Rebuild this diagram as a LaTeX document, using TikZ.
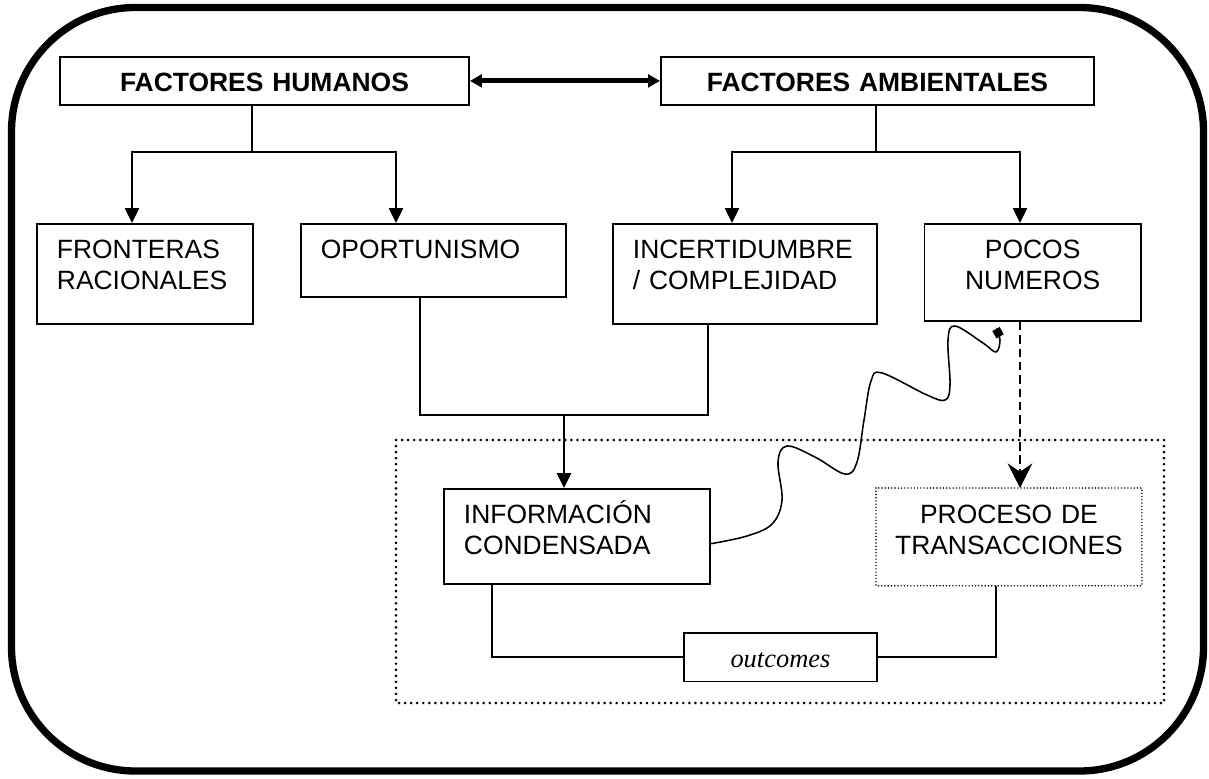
\documentclass[tikz,border=0pt]{standalone}
\usepackage{fontspec}
\setmainfont{Liberation Sans}
\newfontfamily\timesfont{Liberation Serif}
\usetikzlibrary{arrows.meta}

\begin{document}
\begin{tikzpicture}[x=0.025cm,y=-0.025cm,>={Triangle[length=10.5pt,width=10pt]},
                    line width=1.2pt]
  \tikzstyle{box}=[draw,line width=1.3pt,anchor=north west,inner xsep=0.5cm,inner ysep=0pt,
                   text height=24.5pt,font=\fontsize{18.8}{22.4}\selectfont,align=left]
  \tikzstyle{mid}=[box,inner xsep=0.3cm,align=center]
  \tikzstyle{head}=[mid,font=\fontsize{18.8}{22.4}\selectfont\bfseries]
  \tikzstyle{dotbox}=[line width=2.1pt,dash pattern=on 0pt off 4.3pt,line cap=round]
  \tikzstyle{fine dots}=[line width=1.15pt,dash pattern=on 0pt off 2.3pt,line cap=round]
  \tikzstyle{dash arrow}=[line width=1.4pt,dash pattern=on 6pt off 3.5pt,
                          -{Stealth[length=17.5pt,width=17.5pt,inset=6pt]}]

  \useasboundingbox (0,0) rectangle (1209,778);
  \draw[line width=5.2pt,rounded corners=3.1cm] (11.5,7.5) rectangle (1203.5,771);

  \node[head,text width=9.625cm,text depth=9.6pt]  (fh)   at (59,56)    {FACTORES HUMANOS};
  \node[head,text width=10.225cm,text depth=9.6pt] (fa)   at (660,56)   {FACTORES AMBIENTALES};
  \node[box,text width=4.4cm,text depth=46.6pt]    (fr)   at (36,223)   {FRONTERAS\\RACIONALES};
  \node[box,text width=5.625cm,text depth=27.4pt]  (op)   at (300,223)  {OPORTUNISMO};
  \node[box,text width=5.6cm,text depth=46.6pt]    (in)   at (612,223)  {INCERTIDUMBRE\\/ COMPLEJIDAD};
  \node[mid,text width=4.81cm,text depth=44.5pt]   (pn)   at (923.5,223) {POCOS\\NUMEROS};
  \node[box,text width=5.65cm,text depth=43.4pt]   (info) at (443,488)  {INFORMACIÓN\\CONDENSADA};
  \node[mid,draw=none,text width=6.0cm,text depth=43.7pt] (pt) at (876,488) {PROCESO DE\\TRANSACCIONES};
  \draw[fine dots] (pt.north west) rectangle (pt.south east);
  \node[mid,text width=4.225cm,text depth=10pt,
        font=\timesfont\itshape\fontsize{18.8}{22.4}\selectfont] (out) at (683,632) {outcomes};

  % market frame
  \draw[dotbox] (396,440) rectangle (1164,703);

  \coordinate (hs) at (252,152);
  \coordinate (hl) at (132,152);
  \coordinate (hr) at (396,152);
  \coordinate (al) at (732,152);
  \coordinate (ar) at (1020,152);
  \coordinate (as) at (876,152);
  \coordinate (ml) at (420,415);
  \coordinate (mm) at (564,415);
  \coordinate (mr) at (708,415);
  \coordinate (pl) at (492,0);
  \coordinate (pr) at (996,0);
  \coordinate (dv) at (1020,0);
  \coordinate (pnw) at (996,329);

  \draw[{Triangle[length=8.5pt,width=9pt]}-{Triangle[length=8.5pt,width=9pt]},line width=3.5pt]
        (fh.east) -- (fa.west);

  \draw (fh.south -| hs) -- (hs);
  \draw[->] (hs) -- (hl) -- (hl |- fr.north);
  \draw[->] (hs) -- (hr) -- (hr |- op.north);
  \draw (fa.south -| as) -- (as);
  \draw[->] (as) -- (al) -- (al |- in.north);
  \draw[->] (as) -- (ar) -- (ar |- pn.north);

  \draw (op.south -| ml) -- (ml) -- (mr) -- (in.south -| mr);
  \draw[->] (mm) -- (info.north -| mm);
  \draw[dash arrow] (pn.south -| dv) -- (pt.north -| dv);

  \draw (info.south -| pl) |- (out.west);
  \draw (pt.south -| pr) |- (out.east);

%  wire from the information box up to the few numbers box
  \draw[-{Square[length=6pt,width=6pt]},line width=1.1pt]
    plot[smooth,tension=0.6] coordinates {([yshift=-5pt]info.east) (747,536) (772,524) (782,500)
      (778,462) (787,446) (815,457) (845,474) (857,462) (864,420) (871,381) (882,373)
      (927,395) (945,400) (950,385) (948,340) (955,326) (983,343) (996,352) (1000,340) (pnw)};
\end{tikzpicture}
\end{document}
